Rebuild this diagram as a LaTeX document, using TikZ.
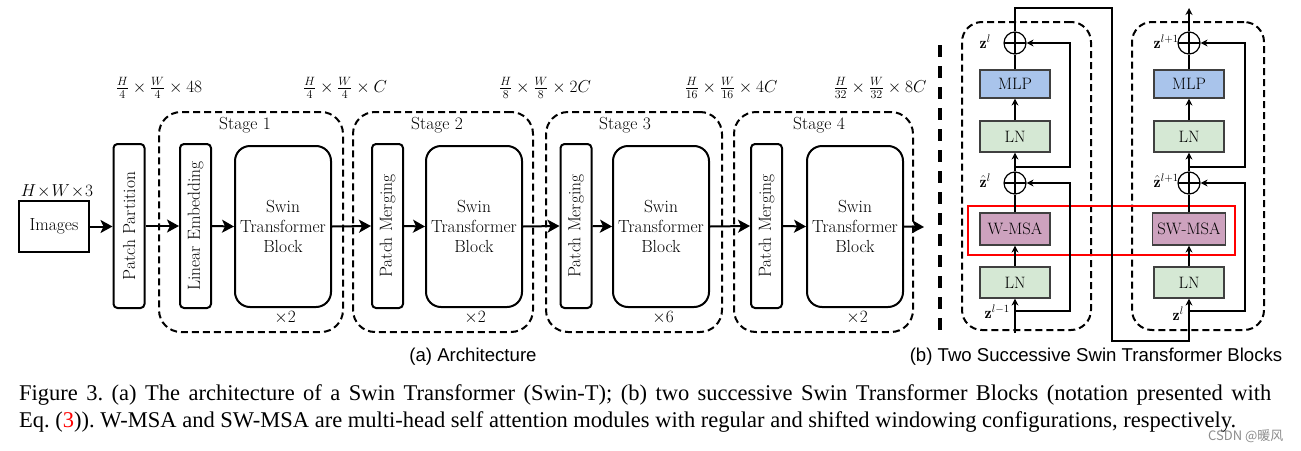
\documentclass[tikz,border=0pt]{standalone}
\usepackage{fontspec}
\usetikzlibrary{arrows.meta}
\newfontfamily\sansf{Liberation Sans}
\newfontfamily\serf{Liberation Serif}
\newfontfamily\cjkf{Noto Sans CJK SC}
\definecolor{lngreen}{HTML}{D5E8D4}
\definecolor{mlpblue}{HTML}{A9C4EB}
\definecolor{msapurple}{HTML}{CDA2BE}
\frenchspacing
\begin{document}
\begin{tikzpicture}[x=1pt,y=-1pt,
  dfont/.style={font=\fontsize{17.5}{20}\selectfont},
  tallbox/.style={draw, line width=2pt, rounded corners=4pt, inner sep=0pt, minimum width=31pt, minimum height=164pt, dfont},
  swinbox/.style={draw, line width=2pt, rounded corners=15pt, minimum width=96pt, minimum height=161pt, align=center, dfont},
  stagebox/.style={draw, line width=2pt, dash pattern=on 7pt off 4pt, rounded corners=22pt, minimum height=220pt},
  bigarrow/.style={line width=2pt, -{Stealth[length=12pt,width=13pt,inset=3pt]}},
  blk/.style={draw=black!75, line width=1.2pt, minimum width=70pt, inner sep=0pt, font=\fontsize{16.5}{19}\selectfont},
  lnbox/.style={blk, fill=lngreen, minimum height=31pt},
  mlpbox/.style={blk, fill=mlpblue, minimum height=28pt},
  msabox/.style={blk, fill=msapurple, minimum height=32pt},
  oplus/.style={circle, draw, line width=1.2pt, minimum size=22pt, inner sep=0pt,
     path picture={\draw[line width=1.2pt] (path picture bounding box.north) -- (path picture bounding box.south)
        (path picture bounding box.west) -- (path picture bounding box.east);}},
  thinline/.style={line width=1.2pt},
  thinarrow/.style={line width=1.2pt, -{Stealth[length=7pt,width=7pt]}},
  blockframe/.style={draw, line width=2pt, dash pattern=on 7pt off 4pt, rounded corners=20pt, minimum height=308pt},
  zlabel/.style={anchor=east, inner sep=0pt, font=\fontsize{16}{18}\selectfont},
  dimlabel/.style={font=\fontsize{17}{20}\selectfont, inner sep=0pt}
]
\useasboundingbox (0,0) rectangle (1301,450);

% ---------- (a) Architecture ----------
\node[draw, line width=2pt, minimum width=70pt, minimum height=51pt, inner sep=0pt, dfont] (img) at (54,226.5) {Images};
\node[dfont, anchor=base, inner sep=0pt] (hw3) at (57,196) {$H\!\times\! W\!\times\! 3$};

\node[tallbox] (pp) at (129,226) {\rotatebox{90}{Patch Partition}};

\node[stagebox, minimum width=184pt] (st1) at (251,222) {};
\node[stagebox, minimum width=180pt] (st2) at (443,222) {};
\node[stagebox, minimum width=176pt] (st3) at (634,222) {};
\node[stagebox, minimum width=179pt] (st4) at (823.5,222) {};

\node[tallbox] (le) at (195.5,226) {\rotatebox{90}{Linear Embedding}};
\node[swinbox] (sw1) at (283,226.5) {Swin\\Transformer\\Block};
\node[tallbox] (pm2) at (387.5,226) {\rotatebox{90}{Patch Merging}};
\node[swinbox] (sw2) at (474,226.5) {Swin\\Transformer\\Block};
\node[tallbox] (pm3) at (576,226) {\rotatebox{90}{Patch Merging}};
\node[swinbox] (sw3) at (661,226.5) {Swin\\Transformer\\Block};
\node[tallbox] (pm4) at (766.5,226) {\rotatebox{90}{Patch Merging}};
\node[swinbox] (sw4) at (855,226.5) {Swin\\Transformer\\Block};
\coordinate (out) at (924,227);

\node[dfont] (sl1) at (245,125) {Stage 1};
\node[dfont] (sl2) at (437,125) {Stage 2};
\node[dfont] (sl3) at (625,125) {Stage 3};
\node[dfont] (sl4) at (819,125) {Stage 4};

\node[dfont] (r1) at (285,318) {$\times 2$};
\node[dfont] (r2) at (475,318) {$\times 2$};
\node[dfont] (r3) at (663,318) {$\times 6$};
\node[dfont] (r4) at (857,318) {$\times 2$};

\node[dimlabel] (d1) at (159,88) {$\frac{H}{4}\times\frac{W}{4}\times 48$};
\node[dimlabel] (d2) at (345,88) {$\frac{H}{4}\times\frac{W}{4}\times C$};
\node[dimlabel] (d3) at (545,88) {$\frac{H}{8}\times\frac{W}{8}\times 2C$};
\node[dimlabel] (d4) at (731,88) {$\frac{H}{16}\times\frac{W}{16}\times 4C$};
\node[dimlabel] (d5) at (880,88) {$\frac{H}{32}\times\frac{W}{32}\times 8C$};

\draw[bigarrow] (img.east) -- (pp.west |- img.east);
\draw[bigarrow] (pp.east) -- (le.west);
\draw[bigarrow] (le.east) -- (sw1.west);
\draw[bigarrow] (sw1.east) -- (pm2.west);
\draw[bigarrow] (pm2.east) -- (sw2.west);
\draw[bigarrow] (sw2.east) -- (pm3.west);
\draw[bigarrow] (pm3.east) -- (sw3.west);
\draw[bigarrow] (sw3.east) -- (pm4.west);
\draw[bigarrow] (pm4.east) -- (sw4.west);
\draw[bigarrow] (sw4.east) -- (out);

\node[font=\sansf\fontsize{18.6}{22}\selectfont] (capa) at (473,357) {(a) Architecture};

% separator
\coordinate (sepa) at (940,45);
\coordinate (sepb) at (940,335);
\draw[line width=4pt, dash pattern=on 12pt off 9pt] (sepa) -- (sepb);

% ---------- (b) Two blocks ----------
\node[blockframe, minimum width=129pt] (bf1) at (1026.5,176) {};
\node[blockframe, minimum width=132pt] (bf2) at (1198,176) {};

\node[oplus] (c1) at (1015,43) {};
\node[mlpbox] (mlp1) at (1015,84) {MLP};
\node[lnbox] (lna1) at (1015,136.5) {LN};
\node[oplus] (h1) at (1015,183) {};
\node[msabox] (msa1) at (1015,229) {W-MSA};
\node[lnbox] (lnb1) at (1015,282.5) {LN};

\node[oplus] (c2) at (1189,43) {};
\node[mlpbox] (mlp2) at (1189,84) {MLP};
\node[lnbox] (lna2) at (1189,136.5) {LN};
\node[oplus] (h2) at (1189,183) {};
\node[msabox, minimum width=73pt] (msa2) at (1189,229) {SW-MSA};
\node[lnbox] (lnb2) at (1189,282.5) {LN};

\node[zlabel] (zl1) at (991,42) {$\mathbf{z}^l$};
\node[zlabel] (zh1) at (991,181) {$\hat{\mathbf{z}}^l$};
\node[zlabel] (zin1) at (1010,312) {$\mathbf{z}^{l-1}$};
\node[zlabel] (zl2) at (1179,42) {$\mathbf{z}^{l+1}$};
\node[zlabel] (zh2) at (1179,181) {$\hat{\mathbf{z}}^{l+1}$};
\node[zlabel] (zin2) at (1184,314) {$\mathbf{z}^{l}$};

\node[draw=red, line width=2.2pt, minimum width=267pt, minimum height=49pt, inner sep=0pt] (redbox) at (1101.5,230.5) {};

% block 1 main path
\coordinate (in1) at (1015,333);
\draw[thinarrow] (in1) -- (lnb1.south);
\draw[thinarrow] (lnb1.north) -- (msa1.south);
\draw[thinline] (msa1.north) -- (h1.south);
\draw[thinarrow] (h1.north) -- (lna1.south);
\draw[thinarrow] (lna1.north) -- (mlp1.south);
\draw[thinline] (mlp1.north) -- (c1.south);
% skips block 1
\coordinate (s1a) at (1015,167);
\coordinate (s1b) at (1070,167);
\coordinate (s1c) at (1015,311);
\coordinate (s1d) at (1070,311);
\draw[thinarrow] (s1a) -- (s1b) |- (c1.east);
\draw[thinarrow] (s1c) -- (s1d) |- (h1.east);
% link between blocks
\coordinate (t1) at (1015,8);
\coordinate (t2) at (1112,8);
\coordinate (b2) at (1112,341);
\coordinate (b3) at (1189,341);
\draw[thinarrow] (c1.north) -- (t1) -- (t2) -- (b2) -- (b3) -- (lnb2.south);
% block 2 main path
\draw[thinarrow] (lnb2.north) -- (msa2.south);
\draw[thinline] (msa2.north) -- (h2.south);
\draw[thinarrow] (h2.north) -- (lna2.south);
\draw[thinarrow] (lna2.north) -- (mlp2.south);
\draw[thinline] (mlp2.north) -- (c2.south);
\coordinate (out2) at (1189,8);
\draw[thinarrow] (c2.north) -- (out2);
% skips block 2
\coordinate (s2a) at (1189,167);
\coordinate (s2b) at (1245,167);
\coordinate (s2c) at (1189,311);
\coordinate (s2d) at (1245,311);
\draw[thinarrow] (s2a) -- (s2b) |- (c2.east);
\draw[thinarrow] (s2c) -- (s2d) |- (h2.east);

\node[font=\sansf\fontsize{18.6}{22}\selectfont] (capb) at (1096,357) {(b) Two Successive Swin Transformer Blocks};

% ---------- caption ----------
\node[anchor=base west, inner sep=0pt, font=\serf\fontsize{22.5}{26}\selectfont] (cap1) at (19,400)
  {\makebox[1252pt][s]{Figure 3. (a) The architecture of a Swin Transformer (Swin-T); (b) two successive Swin Transformer Blocks (notation presented with}};
\node[anchor=base west, inner sep=0pt, font=\serf\fontsize{22.5}{26}\selectfont] (cap2) at (19,427)
  {Eq. (\textcolor{red}{3})). W-MSA and SW-MSA are multi-head self attention modules with regular and shifted windowing configurations, respectively.};

\node[anchor=base west, inner sep=0pt, text=black!45, font=\cjkf\fontsize{13}{15}\selectfont] (wm) at (1208,440) {CSDN @暖风};
\end{tikzpicture}
\end{document}
